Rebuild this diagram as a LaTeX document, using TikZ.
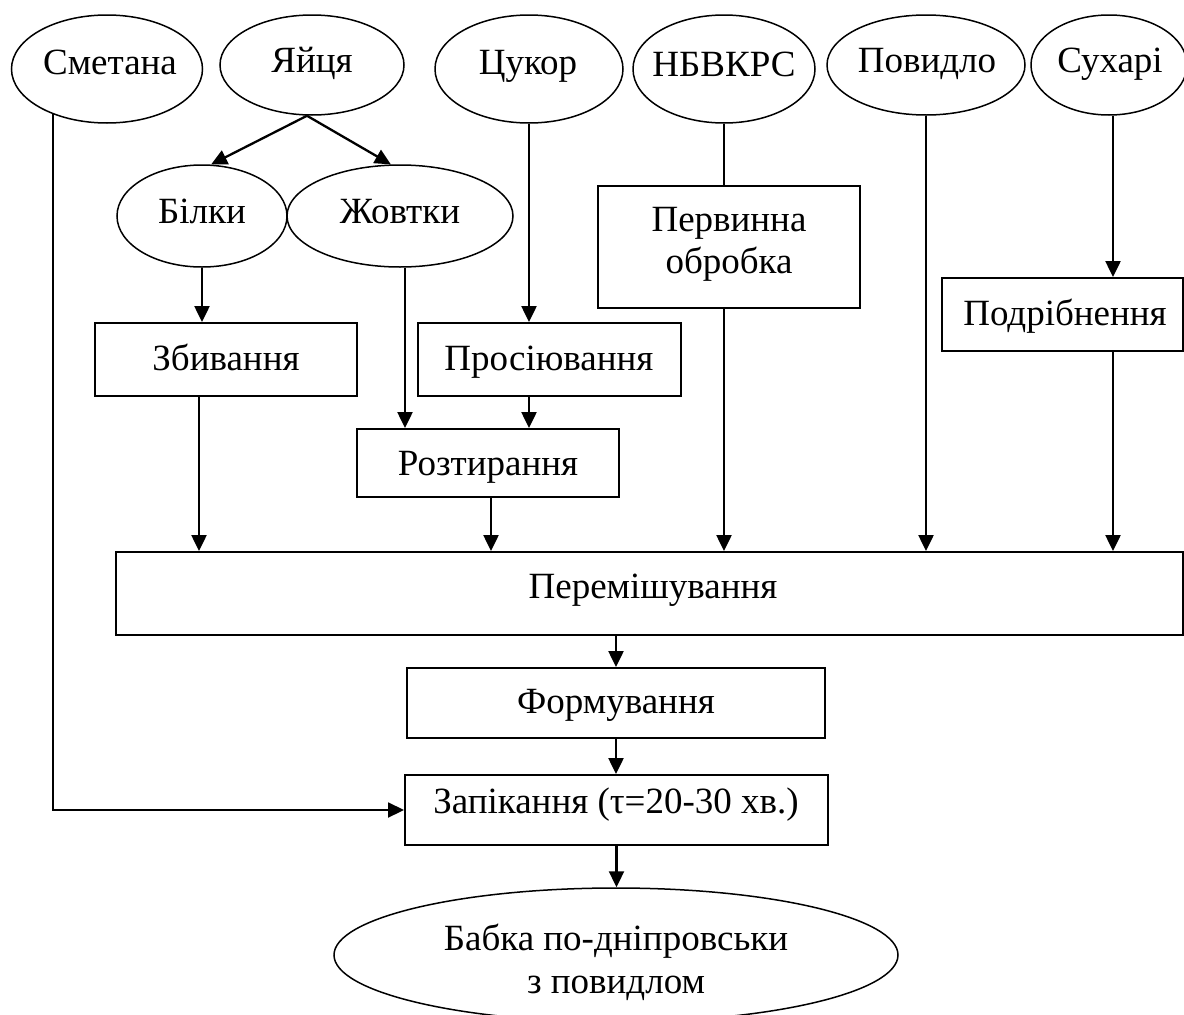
\documentclass[tikz,border=0pt]{standalone}
\usepackage{fontspec}
\setmainfont{Liberation Serif}
\usetikzlibrary{shapes.geometric,arrows.meta}

\begin{document}
\begin{tikzpicture}[x=1pt,y=-1pt,
  oval/.style={draw,ellipse,line width=1.5pt,inner sep=0pt},
  stage/.style={draw,rectangle,line width=1.9pt,inner sep=0pt},
  lbl/.style={anchor=base,inner sep=0pt,font=\fontsize{37}{43}\selectfont},
  flow/.style={line width=2.3pt,-{Triangle[length=16pt,width=15pt]}},
  link/.style={line width=2.3pt}]
\useasboundingbox (0,0) rectangle (1184,1015);
\clip (0,0) rectangle (1184,1015);

% raw materials
\node[oval,minimum width=191,minimum height=108] (smetana) at (107,69) {};
\node[oval,minimum width=184,minimum height=100] (yajtsia) at (312,65) {};
\node[oval,minimum width=188,minimum height=108] (tsukor) at (529,69) {};
\node[oval,minimum width=182,minimum height=108] (nbvkrs) at (724,69) {};
\node[oval,minimum width=198,minimum height=100] (povydlo) at (926,65) {};
\node[oval,minimum width=156,minimum height=100] (sukhari) at (1109,65) {};
\node[oval,minimum width=170,minimum height=102] (bilky) at (202,216) {};
\node[oval,minimum width=226,minimum height=102] (zhovtky) at (400,216) {};

% process stages
\node[stage,minimum width=262,minimum height=73] (zbyv) at (226,359.5) {};
\node[stage,minimum width=263,minimum height=73] (prosiyuv) at (549.5,359.5) {};
\node[stage,minimum width=262,minimum height=122] (pervynna) at (729,247) {};
\node[stage,minimum width=241,minimum height=73] (podribn) at (1062.5,314.5) {};
\node[stage,minimum width=262,minimum height=68] (rozt) at (488,463) {};
\node[stage,minimum width=1067,minimum height=83] (perem) at (649.5,593.5) {};
\node[stage,minimum width=418,minimum height=70] (formuv) at (616,703) {};
\node[stage,minimum width=423,minimum height=70] (zapik) at (616.5,810) {};

% finished product
\node[oval,minimum width=564,minimum height=134] (babka) at (616,955) {};

% labels
\node[lbl] (t-smetana) at (110,74) {Сметана};
\node[lbl] (t-yajtsia) at (312,72) {Яйця};
\node[lbl] (t-tsukor) at (528,74) {Цукор};
\node[lbl] (t-nbvkrs) at (724,76) {НБВКРС};
\node[lbl] (t-povydlo) at (927,72) {Повидло};
\node[lbl] (t-sukhari) at (1110,72) {Сухарі};
\node[lbl] (t-bilky) at (202,223) {Білки};
\node[lbl] (t-zhovtky) at (400,223) {Жовтки};
\node[lbl] (t-pervynna1) at (729,231) {Первинна};
\node[lbl] (t-pervynna2) at (729,273) {обробка};
\node[lbl] (t-podribn) at (1065,325) {Подрібнення};
\node[lbl] (t-zbyv) at (226,370) {Збивання};
\node[lbl] (t-prosiyuv) at (549,370) {Просіювання};
\node[lbl] (t-rozt) at (488,475) {Розтирання};
\node[lbl] (t-perem) at (653,598) {Перемішування};
\node[lbl] (t-formuv) at (616,713) {Формування};
\node[lbl] (t-zapik) at (616,813) {Запікання (τ=20-30 хв.)};
\node[lbl] (t-babka1) at (616,950) {Бабка по-дніпровськи};
\node[lbl] (t-babka2) at (616,993) {з повидлом};

% connectors
\draw[flow] ([xshift=-5pt]yajtsia.south) -- (bilky.80);
\draw[flow] ([xshift=-5pt]yajtsia.south) -- (zhovtky.100);
\draw[flow] (bilky.south) -- (bilky.south |- zbyv.north);
\draw[flow] ([xshift=-27pt]zbyv.south) -- ([xshift=-27pt]zbyv.south |- perem.north);
\draw[flow] ([xshift=5pt]zhovtky.south) -- ([xshift=5pt]zhovtky.south |- rozt.north);
\draw[flow] (tsukor.south) -- (tsukor.south |- prosiyuv.north);
\draw[flow] (prosiyuv.south -| tsukor.south) -- (tsukor.south |- rozt.north);
\draw[flow] ([xshift=3pt]rozt.south) -- ([xshift=3pt]rozt.south |- perem.north);
\draw[link] (nbvkrs.south) -- (nbvkrs.south |- pervynna.north);
\draw[flow] (pervynna.south -| nbvkrs.south) -- (nbvkrs.south |- perem.north);
\draw[flow] (povydlo.south) -- (povydlo.south |- perem.north);
\draw[flow] ([xshift=4pt]sukhari.south) -- ([xshift=4pt]sukhari.south |- podribn.north);
\draw[flow] ([xshift=4pt]sukhari.south |- podribn.south) -- ([xshift=4pt]sukhari.south |- perem.north);
\draw[flow] (perem.south -| formuv.north) -- (formuv.north);
\draw[flow] (formuv.south) -- (formuv.south |- zapik.north);
\draw[flow] (zapik.south) -- (zapik.south |- babka.north);
\draw[flow,line width=1.8pt] (smetana.220) |- (zapik.west);
\end{tikzpicture}
\end{document}
